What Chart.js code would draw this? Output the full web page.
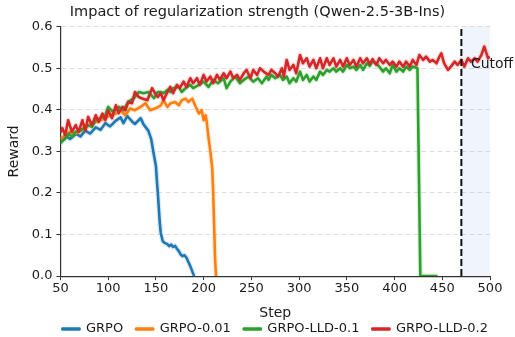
<!DOCTYPE html>
<html lang="en">
<head>
<meta charset="UTF-8">
<title>Impact of regularization strength</title>
<script src="https://cdn.jsdelivr.net/npm/chart.js"></script>
<style>
  body { margin: 0; background: #ffffff; }
  canvas { display: block; }
</style>
</head>
<body>
<canvas id="rewardChart" width="515" height="337"></canvas>
<script>
const chartTitle = 'Impact of regularization strength (Qwen-2.5-3B-Ins)';
const seriesNames = ['GRPO', 'GRPO-0.01', 'GRPO-LLD-0.1', 'GRPO-LLD-0.2'];
const seriesColors = ['#1f77b4', '#ff7f0e', '#2ca02c', '#d62728'];
const bandColors = ['rgba(31,119,180,0.16)', 'rgba(255,127,14,0.16)', 'rgba(44,160,44,0.16)', 'rgba(214,39,40,0.16)'];
const xTickValues = [50, 100, 150, 200, 250, 300, 350, 400, 450, 500];
const yTickValues = [0, 0.1, 0.2, 0.3, 0.4, 0.5, 0.6];
const cutoffStep = 470;
const cutoffLabelStep = 480;
const cutoffLabelReward = 0.51;

// GRPO
const grpoSteps = [50,55,60,66,71,76,81,87,92,97,
  102,108,113,116,120,125,128,134,137,142,
  145,148,150,151,152,153,154,155,157,159,
  162,164,166,168,170,172,174,176,178,180,
  182,184,186,188,190];
const grpoReward = [0.325,0.338,0.33,0.342,0.336,0.35,0.343,0.358,0.352,0.368,
  0.36,0.374,0.382,0.368,0.385,0.372,0.366,0.38,0.365,0.35,
  0.33,0.29,0.265,0.23,0.2,0.165,0.13,0.105,0.085,0.08,
  0.077,0.072,0.076,0.07,0.073,0.066,0.06,0.052,0.048,0.05,
  0.044,0.034,0.024,0.012,0];

// GRPO-0.01
const grpo001Steps = [50,55,60,66,71,76,81,87,92,97,
  102,108,113,118,123,128,134,139,144,149,
  155,158,162,165,170,174,177,181,184,188,
  191,195,198,200,202,203,205,207,209,210,
  211,212,213];
const grpo001Reward = [0.33,0.339,0.347,0.343,0.35,0.355,0.367,0.371,0.375,0.38,
  0.387,0.391,0.399,0.387,0.403,0.399,0.407,0.416,0.399,0.403,
  0.41,0.423,0.407,0.415,0.419,0.411,0.423,0.427,0.419,0.427,
  0.411,0.391,0.399,0.375,0.387,0.375,0.335,0.3,0.26,0.2,
  0.12,0.04,0];

// GRPO-LLD-0.1
const lld01Steps = [50,55,59,62,66,71,76,79,83,87,
  92,97,100,105,111,116,121,127,132,137,
  142,148,152,155,158,162,165,168,174,177,
  181,186,189,195,200,205,210,215,221,224,
  228,233,238,242,247,252,257,261,266,268,
  271,275,280,283,287,290,294,297,301,304,
  308,311,315,318,322,325,329,332,336,339,
  343,346,350,353,357,360,364,367,371,374,
  377,381,384,388,391,395,398,402,405,409,
  412,416,419,422,424,427,430,435,440,445];
const lld01Reward = [0.32,0.331,0.343,0.335,0.347,0.35,0.359,0.363,0.359,0.375,
  0.38,0.387,0.407,0.395,0.407,0.399,0.419,0.428,0.443,0.44,
  0.443,0.428,0.443,0.443,0.44,0.448,0.443,0.452,0.455,0.443,
  0.452,0.46,0.452,0.46,0.468,0.455,0.472,0.464,0.476,0.452,
  0.468,0.48,0.464,0.472,0.48,0.468,0.476,0.464,0.48,0.472,
  0.484,0.476,0.484,0.472,0.48,0.464,0.476,0.468,0.492,0.472,
  0.484,0.468,0.48,0.472,0.492,0.484,0.496,0.492,0.5,0.492,
  0.5,0.492,0.508,0.5,0.504,0.496,0.508,0.496,0.512,0.506,
  0.516,0.512,0.504,0.492,0.5,0.488,0.508,0.492,0.5,0.492,
  0.504,0.496,0.504,0.502,0.5,0,0,0,0,0];

// GRPO-LLD-0.2
const lld02Steps = [50,52,55,58,62,66,69,73,76,79,
  83,87,90,94,97,100,104,108,111,115,
  118,121,125,128,132,135,141,146,149,152,
  155,158,162,165,168,172,175,179,182,186,
  189,193,196,200,203,207,210,214,217,221,
  224,228,231,235,238,242,245,249,252,256,
  259,264,268,271,275,278,282,284,287,290,
  294,297,301,304,308,311,315,318,322,325,
  329,332,336,339,343,346,350,353,357,360,
  364,367,371,374,377,381,384,388,391,395,
  398,402,405,409,412,416,419,423,426,430,
  433,437,440,444,447,449,452,456,459,463,
  466,470,473,477,480,484,487,491,494,498,
  500];
const lld02Reward = [0.345,0.356,0.339,0.375,0.347,0.363,0.347,0.375,0.35,0.383,
  0.363,0.387,0.371,0.391,0.375,0.399,0.38,0.411,0.392,0.407,
  0.399,0.419,0.416,0.443,0.431,0.428,0.423,0.452,0.44,0.431,
  0.44,0.423,0.443,0.455,0.44,0.46,0.452,0.468,0.455,0.476,
  0.464,0.476,0.46,0.484,0.468,0.48,0.464,0.484,0.472,0.488,
  0.476,0.492,0.476,0.484,0.472,0.488,0.496,0.476,0.496,0.484,
  0.5,0.49,0.484,0.496,0.488,0.48,0.5,0.48,0.52,0.496,
  0.508,0.488,0.532,0.512,0.524,0.504,0.52,0.5,0.524,0.5,
  0.524,0.508,0.524,0.504,0.52,0.504,0.524,0.508,0.52,0.504,
  0.524,0.512,0.524,0.51,0.522,0.508,0.524,0.512,0.52,0.508,
  0.516,0.504,0.516,0.504,0.516,0.504,0.52,0.508,0.532,0.52,
  0.528,0.516,0.52,0.512,0.528,0.536,0.512,0.496,0.504,0.516,
  0.508,0.52,0.504,0.524,0.516,0.524,0.516,0.532,0.552,0.524,
  0.528];

const allSteps = [grpoSteps, grpo001Steps, lld01Steps, lld02Steps];
const allReward = [grpoReward, grpo001Reward, lld01Reward, lld02Reward];

const fontFamily = "'DejaVu Sans', sans-serif";
const textColor = '#1a1a1a';

function toPoints(steps, values) {
  return steps.map((s, i) => ({ x: s, y: values[i] }));
}

const datasets = [];
// main lines first (legend order), red drawn on top
seriesNames.forEach((name, i) => {
  datasets.push({
    label: name,
    data: toPoints(allSteps[i], allReward[i]),
    borderColor: seriesColors[i],
    backgroundColor: seriesColors[i],
    borderWidth: 2.6,
    borderJoinStyle: 'round',
    pointRadius: 0,
    tension: 0,
    order: 4 - i
  });
});
// faint bands underneath
seriesNames.forEach((name, i) => {
  datasets.push({
    label: '',
    data: toPoints(allSteps[i], allReward[i]),
    borderColor: bandColors[i],
    backgroundColor: bandColors[i],
    borderWidth: 5,
    borderJoinStyle: 'round',
    pointRadius: 0,
    tension: 0,
    order: 10 - i
  });
});

const cutoffPlugin = {
  id: 'cutoff',
  afterLayout(chart) {
    // title centred on the canvas, legend centred under the plot
    const area = chart.chartArea;
    const lg = chart.legend;
    const dx = (area.left + area.right) / 2 - (lg.left + lg.right) / 2;
    lg.left += dx; lg.right += dx;
    const tb = chart.titleBlock;
    const tx = chart.width / 2 - (tb.left + tb.right) / 2;
    tb.left += tx; tb.right += tx;
  },
  beforeDatasetsDraw(chart) {
    const { ctx, scales: { x, y } } = chart;
    const x0 = x.getPixelForValue(cutoffStep);
    const x1 = x.getPixelForValue(xTickValues[xTickValues.length - 1]);
    const yTop = y.getPixelForValue(yTickValues[yTickValues.length - 1]);
    const yBot = y.getPixelForValue(0);
    ctx.save();
    ctx.fillStyle = 'rgba(31,119,180,0.07)';
    ctx.fillRect(x0, yTop, x1 - x0, yBot - yTop);
    ctx.restore();
  },
  afterDatasetsDraw(chart) {
    const { ctx, scales: { x, y } } = chart;
    const xc = x.getPixelForValue(cutoffStep);
    ctx.save();
    ctx.strokeStyle = '#111';
    ctx.lineWidth = 2;
    ctx.setLineDash([7, 3]);
    ctx.beginPath();
    ctx.moveTo(xc, y.getPixelForValue(0));
    ctx.lineTo(xc, y.getPixelForValue(0.6));
    ctx.stroke();
    ctx.setLineDash([]);
    ctx.fillStyle = textColor;
    ctx.font = '14px ' + fontFamily;
    ctx.textAlign = 'left';
    ctx.textBaseline = 'middle';
    ctx.fillText('Cutoff', x.getPixelForValue(cutoffLabelStep), y.getPixelForValue(cutoffLabelReward));
    ctx.restore();
  }
};

new Chart(document.getElementById('rewardChart'), {
  type: 'line',
  data: { datasets: datasets },
  plugins: [cutoffPlugin],
  options: {
    responsive: false,
    animation: false,
    events: [],
    layout: { padding: { left: 0, right: 25, top: 0, bottom: -8.5 } },
    plugins: {
      title: {
        display: true,
        text: chartTitle,
        color: textColor,
        font: { family: fontFamily, size: 14.5, weight: 'normal' },
        padding: { top: 3.8, bottom: 5.5 }
      },
      legend: {
        position: 'bottom',
        labels: {
          color: textColor,
          font: { family: fontFamily, size: 13 },
          boxWidth: 17,
          boxHeight: 1,
          padding: 13,
          filter: item => item.text !== '',
          sort: (a, b) => a.datasetIndex - b.datasetIndex
        }
      },
      tooltip: { enabled: false }
    },
    scales: {
      x: {
        type: 'linear',
        min: 50,
        max: 500,
        afterBuildTicks: scale => { scale.ticks = xTickValues.map(v => ({ value: v })); },
        ticks: { color: textColor, font: { family: fontFamily, size: 13 }, padding: 1, maxRotation: 0 },
        grid: { drawOnChartArea: false, tickLength: 4, tickColor: '#333', tickWidth: 1 },
        border: { color: '#333', width: 1.2 },
        title: {
          display: true, text: 'Step', color: textColor,
          font: { family: fontFamily, size: 14 },
          padding: { top: 7, bottom: -12 }
        }
      },
      y: {
        min: 0,
        max: 0.6,
        afterBuildTicks: scale => { scale.ticks = yTickValues.map(v => ({ value: v })); },
        ticks: { color: textColor, font: { family: fontFamily, size: 13 }, padding: 4, callback: v => v.toFixed(1) },
        grid: { color: 'rgba(0,0,0,0.13)', lineWidth: 1, tickLength: 4, tickColor: '#333', tickWidth: 1, tickBorderDash: [] },
        border: { color: '#333', width: 1.2, dash: [5, 3] },
        title: {
          display: true, text: 'Reward', color: textColor,
          font: { family: fontFamily, size: 14 },
          padding: { top: 5.5, bottom: 5.5 }
        }
      }
    }
  }
});
</script>
</body>
</html>
